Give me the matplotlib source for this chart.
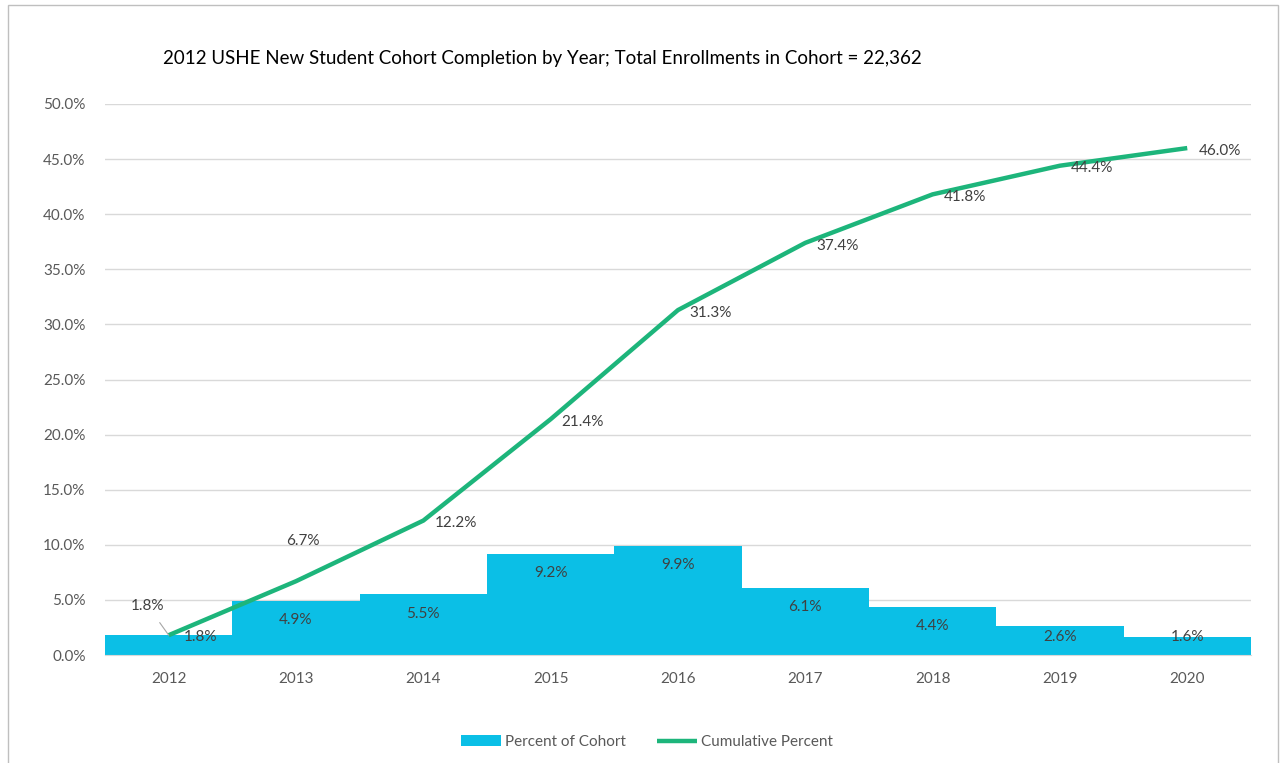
import matplotlib
matplotlib.use("Agg")
from matplotlib import pyplot as plt
from matplotlib.patches import Rectangle
from matplotlib.ticker import FuncFormatter

years = ["2012", "2013", "2014", "2015", "2016", "2017", "2018", "2019", "2020"]
percent_of_cohort = [1.8, 4.9, 5.5, 9.2, 9.9, 6.1, 4.4, 2.6, 1.6]
cumulative_percent = [1.8, 6.7, 12.2, 21.4, 31.3, 37.4, 41.8, 44.4, 46.0]

bar_color = "#0bbfe6"
line_color = "#1db57b"
text_color = "#404040"
tick_color = "#595959"

plt.rcParams["font.family"] = ["Lato", "DejaVu Sans"]

fig = plt.figure(figsize=(12.81, 7.63), dpi=100)
ax = fig.add_axes([0.082, 0.1415, 0.8945, 0.7222])

x = range(len(years))
bars = ax.bar(x, percent_of_cohort, width=1.0, color=bar_color, label="Percent of Cohort", zorder=2)
line, = ax.plot(x, cumulative_percent, color=line_color, linewidth=3.2, label="Cumulative Percent",
                zorder=3, solid_capstyle="butt")

ax.set_xlim(-0.5, len(years) - 0.5)
ax.set_ylim(0, 50)
ax.set_yticks([i * 5 for i in range(11)])
ax.yaxis.set_major_formatter(FuncFormatter(lambda v, p: f"{v:.1f}%"))
ax.set_xticks(list(x))
ax.set_xticklabels(years)
ax.tick_params(axis="both", length=0, labelsize=11, labelcolor=tick_color, pad=12)
ax.tick_params(axis="y", pad=14)
ax.grid(axis="y", color="#d9d9d9", linewidth=1, zorder=0)
ax.set_axisbelow(True)
for side in ["top", "left", "right"]:
    ax.spines[side].set_visible(False)
ax.spines["bottom"].set_color("#d9d9d9")

# bar labels, inside end (kept inside the plot area)
for i, v in enumerate(percent_of_cohort):
    ly = max(v - 1.75, 1.6)
    lx = i + 0.25 if i == 0 else i
    ax.text(lx, ly, f"{v:.1f}%", ha="center", va="center", fontsize=11,
            color=text_color, zorder=4)

# cumulative labels, to the right
for i, v in enumerate(cumulative_percent):
    if i == 0:
        ax.annotate(f"{v:.1f}%", (i, v), xytext=(-15, 21), textcoords="offset points",
                    ha="center", va="center", fontsize=11, color=text_color, zorder=4,
                    arrowprops=dict(arrowstyle="-", color="#a6a6a6", lw=0.8,
                                    shrinkA=6, shrinkB=0))
    elif i == 1:
        ax.annotate(f"{v:.1f}%", (i, v), xytext=(5, 29), textcoords="offset points",
                    ha="center", va="center", fontsize=11, color=text_color, zorder=4)
    else:
        ax.annotate(f"{v:.1f}%", (i, v), xytext=(8, -2), textcoords="offset points",
                    ha="left", va="center", fontsize=11, color=text_color, zorder=4)

fig.text(0.127, 0.923, "2012 USHE New Student Cohort Completion by Year; Total Enrollments in Cohort = 22,362",
         fontsize=13.5, color="black", ha="left", va="center")

ax.legend(handles=[bars, line], loc="center", bbox_to_anchor=(0.473, -0.158), ncol=2, frameon=False,
          fontsize=11, labelcolor=tick_color, handlelength=2.6, columnspacing=2.0, handletextpad=0.3)

fig.add_artist(Rectangle((0.006, -0.01), 0.992, 1.003, transform=fig.transFigure,
                         fill=False, edgecolor="#bfbfbf", linewidth=1))

fig.savefig("out.png", dpi=100)
